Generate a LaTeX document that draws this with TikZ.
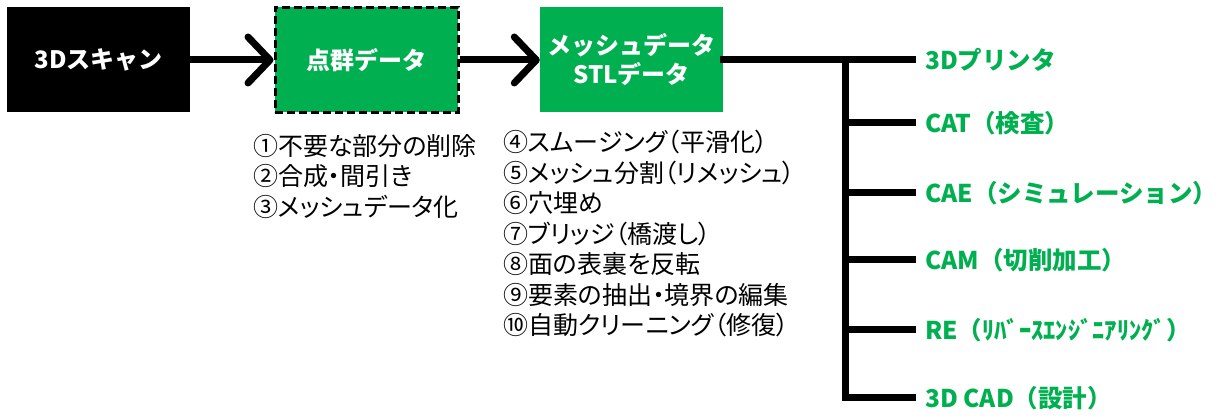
\documentclass[tikz,border=0pt]{standalone}
\usepackage{fontspec}
\setmainfont{Noto Sans CJK JP}
\newfontfamily\listfont{Noto Sans CJK JP}[RawFeature=+palt]
\usepackage{xcolor}
\usetikzlibrary{positioning,arrows.meta}
\definecolor{officegreen}{RGB}{0,176,80}

\tikzset{
  stagebox/.style={minimum width=183pt, minimum height=105pt, inner sep=0pt,
    text=white, align=center, font=\bfseries\fontsize{24}{29}\selectfont},
  flow/.style={line width=7pt, -{Straight Barb[length=22pt,width=46pt,round]}},
  trunk/.style={line width=7pt, line cap=rect},
  uselabel/.style={anchor=west, inner sep=0pt, text=officegreen,
    font=\bfseries\fontsize{24.5}{24.5}\selectfont},
  steplist/.style={anchor=north west, inner sep=0pt, align=left,
    font=\listfont\fontsize{25}{30.5}\selectfont}
}

\begin{document}
\begin{tikzpicture}[x=1pt,y=1pt]
  \useasboundingbox (0,0) rectangle (1227,420);

  % stages
  \node[stagebox, fill=black] (scan) at (98.5,360) {3Dスキャン};
  \node[stagebox, fill=officegreen, draw=black, line width=3pt,
        dash pattern=on 8pt off 4pt] (cloud) at (366.5,360) {点群データ};
  \node[stagebox, fill=officegreen] (mesh) at (631.5,360) {メッシュデータ\\STLデータ};

  \draw[flow] (scan.east) -- (cloud.west);
  \draw[flow] (cloud.east) -- (mesh.west);

  % editing steps
  \node[steplist] (cloudsteps) at (253,286)
    {①不要な部分の削除\\②合成・間引き\\③メッシュデータ化};
  \node[steplist] (meshsteps) at (503,290)
    {④スムージング（平滑化）\\⑤メッシュ分割（リメッシュ）\\⑥穴埋め\\⑦ブリッジ（橋渡し）\\%
     ⑧面の表裏を反転\\⑨要素の抽出・境界の編集\\⑩自動クリーニング（修復）};

  % uses
  \node[uselabel] (printer) at (925,360) {3Dプリンタ};
  \node[uselabel] (cat) at (925,297) {CAT（検査）};
  \node[uselabel] (cae) at (925,227) {CAE（シミュレーション）};
  \node[uselabel] (cam) at (925,160) {CAM（切削加工）};
  \node[uselabel] (re) at (925,90) {RE（ﾘﾊﾞｰｽｴﾝｼﾞﾆｱﾘﾝｸﾞ）};
  \node[uselabel] (cad) at (925,22) {3D CAD（設計）};

  \coordinate (fork) at (845,360);
  \draw[trunk] (mesh.east) -- ([xshift=-13pt]printer.west);
  \foreach \use in {cat,cae,cam,re,cad}
    \draw[trunk] (fork) |- ([xshift=-13pt]\use.west);
\end{tikzpicture}
\end{document}
